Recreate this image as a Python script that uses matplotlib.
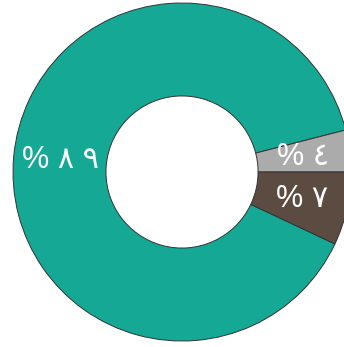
import matplotlib
matplotlib.use("Agg")
import matplotlib.pyplot as plt

categories = ["teal", "gray", "brown"]
values = [89, 4, 7]
colors = ["#14A895", "#ABABAB", "#5C4B41"]

arabic = str.maketrans("0123456789", "٠١٢٣٤٥٦٧٨٩")
labels = ["% " + " ".join(str(v).translate(arabic)) for v in values]

W, H = 344, 347
fig = plt.figure(figsize=(W / 100, H / 100), dpi=100)
R = 169
cx, cy = 182, 347 - 172
ax = fig.add_axes([(cx - R) / W, (cy - R) / H, 2 * R / W, 2 * R / H])

wedges, texts = ax.pie(
    values, colors=colors, labels=labels, labeldistance=0.725,
    startangle=-25.2, counterclock=False, radius=1,
    wedgeprops=dict(width=0.55, edgecolor="#333333", linewidth=0.7),
    textprops=dict(color="white", fontsize=22, fontweight="normal",
                   family=["Liberation Sans", "DejaVu Sans"]),
)
for t in texts:
    t.set_ha("center")
    t.set_va("center")
ax.set_xlim(-1, 1)
ax.set_ylim(-1, 1)
ax.set_aspect("auto")
ax.axis("off")
fig.savefig("out.png", dpi=100)
